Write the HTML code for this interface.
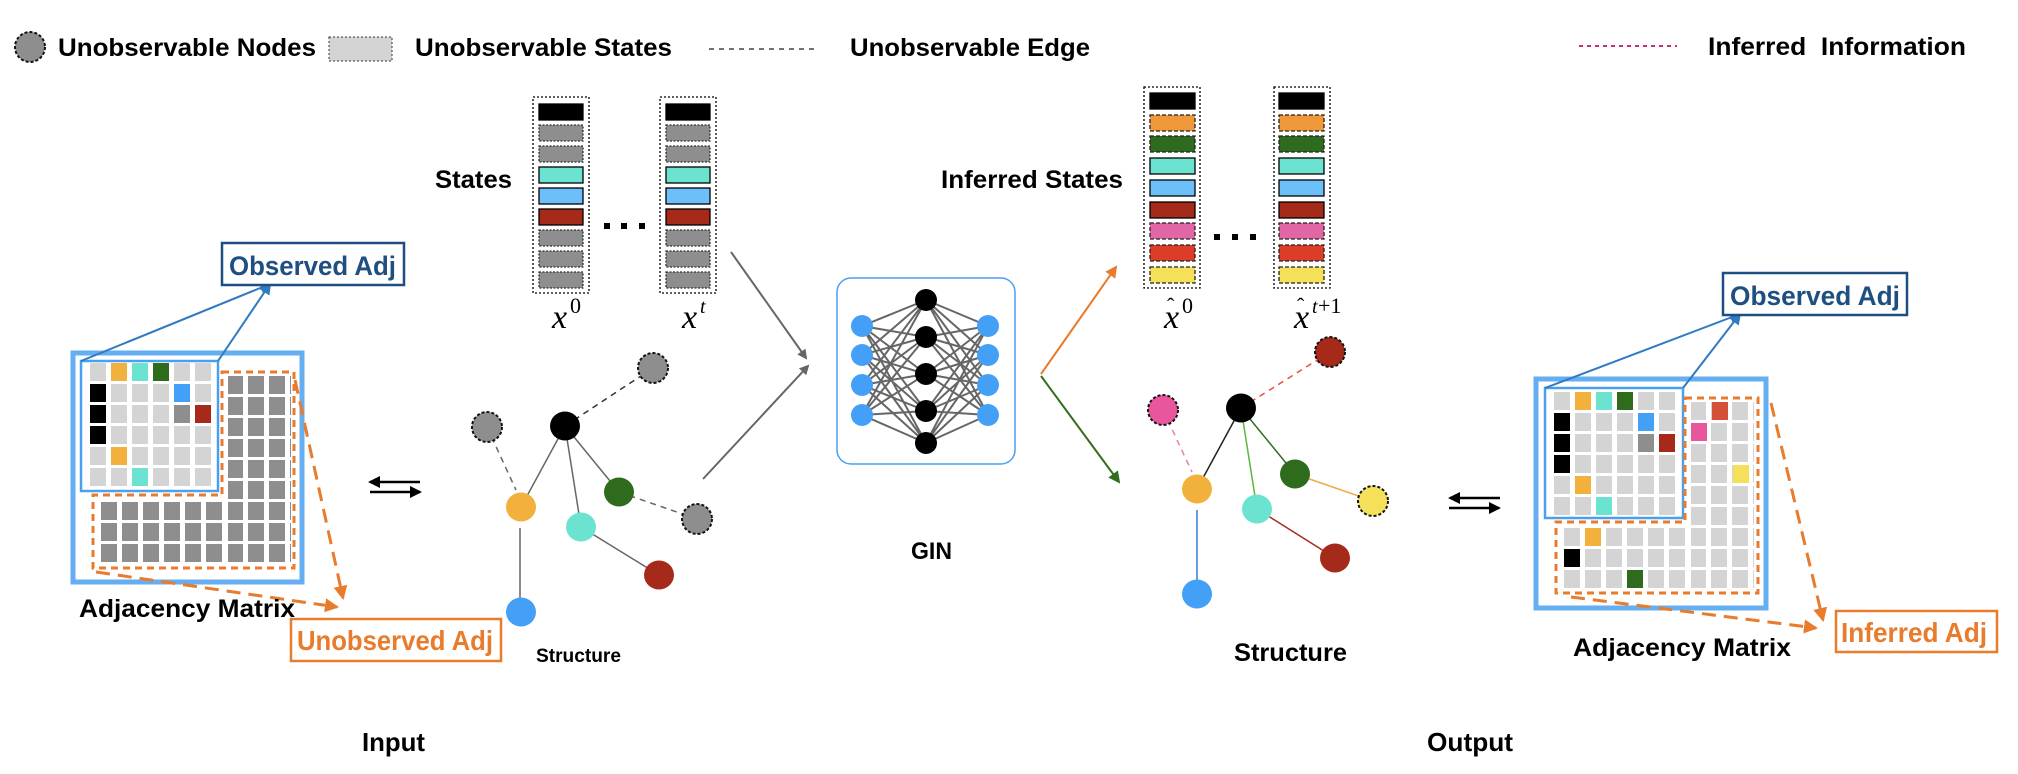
<!DOCTYPE html>
<html><head><meta charset="utf-8"><style>html,body{margin:0;padding:0;background:#fff}svg{display:block}</style></head><body>
<svg xmlns="http://www.w3.org/2000/svg" width="2018" height="774" viewBox="0 0 2018 774" font-family="'Liberation Sans', sans-serif">
<defs>
<pattern id="pL1" x="90" y="363" width="21" height="21" patternUnits="userSpaceOnUse"><rect width="16" height="18" fill="#d4d4d4"/></pattern>
<pattern id="pD" x="101" y="376" width="21" height="21" patternUnits="userSpaceOnUse"><rect width="16" height="18" fill="#8e8e8e"/></pattern>
<pattern id="pR1" x="1554" y="392" width="21" height="21" patternUnits="userSpaceOnUse"><rect width="16" height="18" fill="#d4d4d4"/></pattern>
<pattern id="pR2" x="1564" y="402" width="21" height="21" patternUnits="userSpaceOnUse"><rect width="16" height="18" fill="#d4d4d4"/></pattern>
<marker id="aG" markerWidth="10" markerHeight="10" refX="8" refY="5" orient="auto" markerUnits="userSpaceOnUse"><path d="M0,0 L10,5 L0,10 z" fill="#666"/></marker>
<marker id="aB" markerWidth="12" markerHeight="12" refX="10" refY="6" orient="auto" markerUnits="userSpaceOnUse"><path d="M0,0 L12,6 L0,12 z" fill="#2f7ac0"/></marker>
<marker id="aO" markerWidth="14" markerHeight="14" refX="12" refY="7" orient="auto" markerUnits="userSpaceOnUse"><path d="M0,0 L14,7 L0,14 z" fill="#e87b2c"/></marker>
<marker id="aOr" markerWidth="12" markerHeight="12" refX="10" refY="6" orient="auto" markerUnits="userSpaceOnUse"><path d="M0,0 L12,6 L0,12 z" fill="#e87b2c"/></marker>
<marker id="aGr" markerWidth="12" markerHeight="12" refX="10" refY="6" orient="auto" markerUnits="userSpaceOnUse"><path d="M0,0 L12,6 L0,12 z" fill="#336e1e"/></marker>
<marker id="aK" markerWidth="12" markerHeight="12" refX="10" refY="6" orient="auto" markerUnits="userSpaceOnUse"><path d="M0,0 L12,6 L0,12 z" fill="#000"/></marker>
</defs>

<!-- Legend -->
<ellipse cx="30" cy="47" rx="15" ry="15" fill="#8e8e8e" stroke="#111" stroke-width="2" stroke-dasharray="3,2"/>
<text x="58" y="56" font-size="25" font-weight="bold" textLength="258" lengthAdjust="spacingAndGlyphs">Unobservable Nodes</text>
<rect x="329" y="37" width="63" height="24" fill="#d4d4d4" stroke="#333" stroke-width="1" stroke-dasharray="2,2"/>
<text x="415" y="56" font-size="25" font-weight="bold" textLength="257" lengthAdjust="spacingAndGlyphs">Unobservable States</text>
<line x1="709" y1="49" x2="815" y2="49" stroke="#444" stroke-width="1.5" stroke-dasharray="5,5"/>
<text x="850" y="56" font-size="25" font-weight="bold" textLength="240" lengthAdjust="spacingAndGlyphs">Unobservable Edge</text>
<line x1="1579" y1="46" x2="1677" y2="46" stroke="#c8307a" stroke-width="2" stroke-dasharray="4,4"/>
<text x="1708" y="55" font-size="25" font-weight="bold" textLength="258" lengthAdjust="spacingAndGlyphs" xml:space="preserve">Inferred  Information</text>

<!-- States -->
<text x="435" y="188" font-size="25" font-weight="bold" textLength="77" lengthAdjust="spacingAndGlyphs">States</text>
<g stroke-width="1.3">
<rect x="533" y="97" width="56" height="196" fill="none" stroke="#000" stroke-dasharray="2,2"/>
<rect x="539" y="104" width="44" height="16" fill="#000" stroke="#000"/>
<rect x="539" y="125" width="44" height="16" fill="#8e8e8e" stroke="#333" stroke-dasharray="2,1.5"/>
<rect x="539" y="146" width="44" height="16" fill="#8e8e8e" stroke="#333" stroke-dasharray="2,1.5"/>
<rect x="539" y="167" width="44" height="16" fill="#6ce3d1" stroke="#000"/>
<rect x="539" y="188" width="44" height="16" fill="#6cbff8" stroke="#000"/>
<rect x="539" y="209" width="44" height="16" fill="#a52a1a" stroke="#000"/>
<rect x="539" y="230" width="44" height="16" fill="#8e8e8e" stroke="#333" stroke-dasharray="2,1.5"/>
<rect x="539" y="251" width="44" height="16" fill="#8e8e8e" stroke="#333" stroke-dasharray="2,1.5"/>
<rect x="539" y="272" width="44" height="16" fill="#8e8e8e" stroke="#333" stroke-dasharray="2,1.5"/>

<rect x="660" y="97" width="56" height="196" fill="none" stroke="#000" stroke-dasharray="2,2"/>
<rect x="666" y="104" width="44" height="16" fill="#000" stroke="#000"/>
<rect x="666" y="125" width="44" height="16" fill="#8e8e8e" stroke="#333" stroke-dasharray="2,1.5"/>
<rect x="666" y="146" width="44" height="16" fill="#8e8e8e" stroke="#333" stroke-dasharray="2,1.5"/>
<rect x="666" y="167" width="44" height="16" fill="#6ce3d1" stroke="#000"/>
<rect x="666" y="188" width="44" height="16" fill="#6cbff8" stroke="#000"/>
<rect x="666" y="209" width="44" height="16" fill="#a52a1a" stroke="#000"/>
<rect x="666" y="230" width="44" height="16" fill="#8e8e8e" stroke="#333" stroke-dasharray="2,1.5"/>
<rect x="666" y="251" width="44" height="16" fill="#8e8e8e" stroke="#333" stroke-dasharray="2,1.5"/>
<rect x="666" y="272" width="44" height="16" fill="#8e8e8e" stroke="#333" stroke-dasharray="2,1.5"/>
</g>
<rect x="604" y="223" width="6" height="6" fill="#000"/><rect x="621" y="223" width="6" height="6" fill="#000"/><rect x="639" y="223" width="6" height="6" fill="#000"/>
<g font-family="'Liberation Serif', serif">
<text x="552" y="328" font-size="34" font-style="italic">x</text><text x="570" y="313" font-size="22">0</text>
<text x="682" y="328" font-size="34" font-style="italic">x</text><text x="700" y="313" font-size="20" font-style="italic">t</text>
</g>

<!-- arrows into GIN -->
<line x1="731" y1="252" x2="806" y2="358" stroke="#666" stroke-width="2" marker-end="url(#aG)"/>
<line x1="703" y1="479" x2="808" y2="366" stroke="#666" stroke-width="2" marker-end="url(#aG)"/>

<!-- GIN -->
<rect x="837" y="278" width="178" height="186" rx="14" fill="#fff" stroke="#4aa0f0" stroke-width="1.5"/>
<g stroke="#666" stroke-width="2">
<path d="M862,326L926,300M862,326L926,337M862,326L926,374M862,326L926,411M862,326L926,443
M862,355L926,300M862,355L926,337M862,355L926,374M862,355L926,411M862,355L926,443
M862,385L926,300M862,385L926,337M862,385L926,374M862,385L926,411M862,385L926,443
M862,415L926,300M862,415L926,337M862,415L926,374M862,415L926,411M862,415L926,443
M988,326L926,300M988,326L926,337M988,326L926,374M988,326L926,411M988,326L926,443
M988,355L926,300M988,355L926,337M988,355L926,374M988,355L926,411M988,355L926,443
M988,385L926,300M988,385L926,337M988,385L926,374M988,385L926,411M988,385L926,443
M988,415L926,300M988,415L926,337M988,415L926,374M988,415L926,411M988,415L926,443"/>
</g>
<g fill="#44a0f7"><circle cx="862" cy="326" r="11"/><circle cx="862" cy="355" r="11"/><circle cx="862" cy="385" r="11"/><circle cx="862" cy="415" r="11"/>
<circle cx="988" cy="326" r="11"/><circle cx="988" cy="355" r="11"/><circle cx="988" cy="385" r="11"/><circle cx="988" cy="415" r="11"/></g>
<g fill="#000"><circle cx="926" cy="300" r="11"/><circle cx="926" cy="337" r="11"/><circle cx="926" cy="374" r="11"/><circle cx="926" cy="411" r="11"/><circle cx="926" cy="443" r="11"/></g>
<text x="911" y="559" font-size="24" font-weight="bold" textLength="41" lengthAdjust="spacingAndGlyphs">GIN</text>

<!-- output arrows -->
<line x1="1041" y1="374" x2="1116" y2="267" stroke="#e87b2c" stroke-width="2" marker-end="url(#aOr)"/>
<line x1="1041" y1="376" x2="1119" y2="482" stroke="#336e1e" stroke-width="2" marker-end="url(#aGr)"/>

<!-- Inferred states -->
<text x="941" y="188" font-size="25" font-weight="bold" textLength="182" lengthAdjust="spacingAndGlyphs">Inferred States</text>
<g stroke-width="1.3">
<rect x="1144" y="87" width="56" height="201" fill="none" stroke="#000" stroke-dasharray="2,2"/>
<rect x="1150" y="93" width="45" height="16" fill="#000" stroke="#000"/>
<rect x="1150" y="115" width="45" height="16" fill="#f0993a" stroke="#222" stroke-dasharray="4,2"/>
<rect x="1150" y="136" width="45" height="16" fill="#2e6b1e" stroke="#222" stroke-dasharray="4,2"/>
<rect x="1150" y="158" width="45" height="16" fill="#6ce3d1" stroke="#000"/>
<rect x="1150" y="180" width="45" height="16" fill="#6cbff8" stroke="#000"/>
<rect x="1150" y="202" width="45" height="16" fill="#a52a1a" stroke="#000"/>
<rect x="1150" y="223" width="45" height="16" fill="#e066a6" stroke="#222" stroke-dasharray="4,2"/>
<rect x="1150" y="245" width="45" height="16" fill="#dc3d28" stroke="#222" stroke-dasharray="4,2"/>
<rect x="1150" y="267" width="45" height="16" fill="#f5e05a" stroke="#222" stroke-dasharray="4,2"/>

<rect x="1274" y="87" width="56" height="201" fill="none" stroke="#000" stroke-dasharray="2,2"/>
<rect x="1279" y="93" width="45" height="16" fill="#000" stroke="#000"/>
<rect x="1279" y="115" width="45" height="16" fill="#f0993a" stroke="#222" stroke-dasharray="4,2"/>
<rect x="1279" y="136" width="45" height="16" fill="#2e6b1e" stroke="#222" stroke-dasharray="4,2"/>
<rect x="1279" y="158" width="45" height="16" fill="#6ce3d1" stroke="#000"/>
<rect x="1279" y="180" width="45" height="16" fill="#6cbff8" stroke="#000"/>
<rect x="1279" y="202" width="45" height="16" fill="#a52a1a" stroke="#000"/>
<rect x="1279" y="223" width="45" height="16" fill="#e066a6" stroke="#222" stroke-dasharray="4,2"/>
<rect x="1279" y="245" width="45" height="16" fill="#dc3d28" stroke="#222" stroke-dasharray="4,2"/>
<rect x="1279" y="267" width="45" height="16" fill="#f5e05a" stroke="#222" stroke-dasharray="4,2"/>
</g>
<rect x="1214" y="234" width="6" height="6" fill="#000"/><rect x="1232" y="234" width="6" height="6" fill="#000"/><rect x="1250" y="234" width="6" height="6" fill="#000"/>
<g font-family="'Liberation Serif', serif">
<text x="1164" y="328" font-size="34" font-style="italic">x</text><text x="1167" y="313" font-size="22">ˆ</text><text x="1182" y="313" font-size="22">0</text>
<text x="1294" y="328" font-size="34" font-style="italic">x</text><text x="1297" y="313" font-size="22">ˆ</text><text x="1312" y="313" font-size="20" font-style="italic">t</text><text x="1318" y="313" font-size="22">+1</text>
</g>

<!-- Left adjacency matrix -->
<rect x="73" y="353" width="229" height="229" fill="none" stroke="#4aa0f0" stroke-width="5" opacity="0.85"/>
<rect x="90" y="363" width="126" height="126" fill="url(#pL1)"/>
<rect x="228" y="376" width="63" height="189" fill="url(#pD)"/>
<rect x="101" y="502" width="126" height="63" fill="url(#pD)"/>
<g>
<rect x="111" y="363" width="16" height="18" fill="#f2b03c"/>
<rect x="132" y="363" width="16" height="18" fill="#6ce3d1"/>
<rect x="153" y="363" width="16" height="18" fill="#2f6b1d"/>
<rect x="90" y="384" width="16" height="18" fill="#000"/>
<rect x="174" y="384" width="16" height="18" fill="#44a0f7"/>
<rect x="90" y="405" width="16" height="18" fill="#000"/>
<rect x="174" y="405" width="16" height="18" fill="#8e8e8e"/>
<rect x="195" y="405" width="16" height="18" fill="#a52a1a"/>
<rect x="90" y="426" width="16" height="18" fill="#000"/>
<rect x="111" y="447" width="16" height="18" fill="#f2b03c"/>
<rect x="132" y="468" width="16" height="18" fill="#6ce3d1"/>
</g>
<rect x="81" y="361" width="137" height="130" fill="none" stroke="#4aa0f0" stroke-width="2.5"/>
<path d="M222,372 L294,372 L294,568 L93,568 L93,495 L222,495 Z" fill="none" stroke="#e87b2c" stroke-width="3" stroke-dasharray="7,5"/>
<line x1="81" y1="361" x2="270" y2="284" stroke="#2f7ac0" stroke-width="2" marker-end="url(#aB)"/>
<line x1="218" y1="361" x2="270" y2="284" stroke="#2f7ac0" stroke-width="2" marker-end="url(#aB)"/>
<rect x="222" y="243" width="182" height="42" fill="#fff" stroke="#1f4e80" stroke-width="2.5"/>
<text x="229" y="275" font-size="27" font-weight="bold" fill="#1f4e80" textLength="167" lengthAdjust="spacingAndGlyphs">Observed Adj</text>
<line x1="295" y1="380" x2="343" y2="598" stroke="#e87b2c" stroke-width="3" stroke-dasharray="14,8" marker-end="url(#aO)"/>
<line x1="96" y1="572" x2="337" y2="607" stroke="#e87b2c" stroke-width="3" stroke-dasharray="14,8" marker-end="url(#aO)"/>
<text x="79" y="617" font-size="25" font-weight="bold" textLength="216" lengthAdjust="spacingAndGlyphs">Adjacency Matrix</text>
<rect x="291" y="619" width="210" height="42" fill="#fff" stroke="#e87b2c" stroke-width="2.5"/>
<text x="297" y="650" font-size="28" font-weight="bold" fill="#e87b2c" textLength="196" lengthAdjust="spacingAndGlyphs">Unobserved Adj</text>
<text x="362" y="751" font-size="26" font-weight="bold" textLength="63" lengthAdjust="spacingAndGlyphs">Input</text>

<!-- left switch arrows -->
<line x1="420" y1="482" x2="370" y2="482" stroke="#000" stroke-width="2.5" marker-end="url(#aK)"/>
<line x1="370" y1="492" x2="420" y2="492" stroke="#000" stroke-width="2.5" marker-end="url(#aK)"/>

<!-- Left graph -->
<g stroke="#666" stroke-width="1.5">
<line x1="565" y1="426" x2="521" y2="507"/>
<line x1="565" y1="426" x2="581" y2="527"/>
<line x1="565" y1="426" x2="619" y2="492"/>
<line x1="581" y1="527" x2="659" y2="575"/>
<line x1="520" y1="528" x2="520" y2="612"/>
<line x1="565" y1="426" x2="653" y2="368" stroke="#333" stroke-dasharray="6,5"/>
<line x1="487" y1="427" x2="516" y2="490" stroke-dasharray="6,5"/>
<line x1="619" y1="492" x2="697" y2="519" stroke-dasharray="6,5"/>
</g>
<g stroke="#111" stroke-width="2" stroke-dasharray="3,2" fill="#8e8e8e">
<ellipse cx="653" cy="368" rx="15" ry="15"/><ellipse cx="487" cy="427" rx="15" ry="15"/><ellipse cx="697" cy="519" rx="15" ry="15"/>
</g>
<ellipse cx="565" cy="426" rx="15" ry="14.5" fill="#000"/>
<ellipse cx="521" cy="507" rx="15" ry="14.5" fill="#f2b03c"/>
<ellipse cx="581" cy="527" rx="15" ry="14.5" fill="#6ce3d1"/>
<ellipse cx="619" cy="492" rx="15" ry="14.5" fill="#2f6b1d"/>
<ellipse cx="659" cy="575" rx="15" ry="14.5" fill="#a52a1a"/>
<ellipse cx="521" cy="612" rx="15" ry="14.5" fill="#44a0f7"/>
<text x="536" y="662" font-size="19" font-weight="bold" textLength="85" lengthAdjust="spacingAndGlyphs">Structure</text>

<!-- Right graph -->
<line x1="1241" y1="408" x2="1330" y2="352" stroke="#e8503a" stroke-width="1.5" stroke-dasharray="6,5"/>
<line x1="1163" y1="410" x2="1192" y2="472" stroke="#e87cb8" stroke-width="1.5" stroke-dasharray="6,5"/>
<line x1="1241" y1="408" x2="1197" y2="489" stroke="#222" stroke-width="1.5"/>
<line x1="1241" y1="408" x2="1257" y2="509" stroke="#5cb83a" stroke-width="1.5"/>
<line x1="1241" y1="408" x2="1295" y2="474" stroke="#336e1e" stroke-width="1.5"/>
<line x1="1295" y1="474" x2="1373" y2="501" stroke="#f2a94a" stroke-width="1.5"/>
<line x1="1257" y1="509" x2="1335" y2="558" stroke="#a52a1a" stroke-width="1.5"/>
<line x1="1197" y1="510" x2="1197" y2="594" stroke="#2f7fd0" stroke-width="1.5"/>
<g stroke="#111" stroke-width="2" stroke-dasharray="3,2">
<ellipse cx="1330" cy="352" rx="15" ry="15" fill="#a52a1a"/>
<ellipse cx="1163" cy="410" rx="15" ry="15" fill="#e8579e"/>
<ellipse cx="1373" cy="501" rx="15" ry="15" fill="#f5e05a"/>
</g>
<ellipse cx="1241" cy="408" rx="15" ry="14.5" fill="#000"/>
<ellipse cx="1197" cy="489" rx="15" ry="14.5" fill="#f2b03c"/>
<ellipse cx="1257" cy="509" rx="15" ry="14.5" fill="#6ce3d1"/>
<ellipse cx="1295" cy="474" rx="15" ry="14.5" fill="#2f6b1d"/>
<ellipse cx="1335" cy="558" rx="15" ry="14.5" fill="#a52a1a"/>
<ellipse cx="1197" cy="594" rx="15" ry="14.5" fill="#44a0f7"/>
<text x="1234" y="661" font-size="25" font-weight="bold" textLength="113" lengthAdjust="spacingAndGlyphs">Structure</text>

<!-- right switch arrows -->
<line x1="1500" y1="498" x2="1450" y2="498" stroke="#000" stroke-width="2.5" marker-end="url(#aK)"/>
<line x1="1449" y1="508" x2="1499" y2="508" stroke="#000" stroke-width="2.5" marker-end="url(#aK)"/>

<!-- Right adjacency matrix -->
<rect x="1536" y="379" width="230" height="229" fill="none" stroke="#4aa0f0" stroke-width="5" opacity="0.85"/>
<rect x="1554" y="392" width="126" height="126" fill="url(#pR1)"/>
<rect x="1691" y="402" width="63" height="189" fill="url(#pR2)"/>
<rect x="1564" y="528" width="126" height="63" fill="url(#pR2)"/>
<g>
<rect x="1575" y="392" width="16" height="18" fill="#f2b03c"/>
<rect x="1596" y="392" width="16" height="18" fill="#6ce3d1"/>
<rect x="1617" y="392" width="16" height="18" fill="#2f6b1d"/>
<rect x="1554" y="413" width="16" height="18" fill="#000"/>
<rect x="1638" y="413" width="16" height="18" fill="#44a0f7"/>
<rect x="1554" y="434" width="16" height="18" fill="#000"/>
<rect x="1638" y="434" width="16" height="18" fill="#8e8e8e"/>
<rect x="1659" y="434" width="16" height="18" fill="#a52a1a"/>
<rect x="1554" y="455" width="16" height="18" fill="#000"/>
<rect x="1575" y="476" width="16" height="18" fill="#f2b03c"/>
<rect x="1596" y="497" width="16" height="18" fill="#6ce3d1"/>
<rect x="1712" y="402" width="16" height="18" fill="#d45038"/>
<rect x="1691" y="423" width="16" height="18" fill="#e8579e"/>
<rect x="1733" y="465" width="16" height="18" fill="#f5e05a"/>
<rect x="1585" y="528" width="16" height="18" fill="#f2b03c"/>
<rect x="1564" y="549" width="16" height="18" fill="#000"/>
<rect x="1627" y="570" width="16" height="18" fill="#2f6b1d"/>
</g>
<rect x="1545" y="388" width="138" height="130" fill="none" stroke="#4aa0f0" stroke-width="2.5"/>
<path d="M1685,398 L1758,398 L1758,593 L1556,593 L1556,522 L1685,522 Z" fill="none" stroke="#e87b2c" stroke-width="3" stroke-dasharray="7,5"/>
<line x1="1545" y1="388" x2="1740" y2="314" stroke="#2f7ac0" stroke-width="2" marker-end="url(#aB)"/>
<line x1="1683" y1="388" x2="1740" y2="314" stroke="#2f7ac0" stroke-width="2" marker-end="url(#aB)"/>
<rect x="1723" y="273" width="184" height="42" fill="#fff" stroke="#1f4e80" stroke-width="2.5"/>
<text x="1730" y="305" font-size="27" font-weight="bold" fill="#1f4e80" textLength="170" lengthAdjust="spacingAndGlyphs">Observed Adj</text>
<line x1="1771" y1="403" x2="1823" y2="620" stroke="#e87b2c" stroke-width="3" stroke-dasharray="14,8" marker-end="url(#aO)"/>
<line x1="1571" y1="597" x2="1816" y2="628" stroke="#e87b2c" stroke-width="3" stroke-dasharray="14,8" marker-end="url(#aO)"/>
<text x="1573" y="656" font-size="25" font-weight="bold" textLength="218" lengthAdjust="spacingAndGlyphs">Adjacency Matrix</text>
<rect x="1836" y="611" width="161" height="41" fill="#fff" stroke="#e87b2c" stroke-width="2.5"/>
<text x="1841" y="642" font-size="28" font-weight="bold" fill="#e87b2c" textLength="146" lengthAdjust="spacingAndGlyphs">Inferred Adj</text>
<text x="1427" y="751" font-size="26" font-weight="bold" textLength="86" lengthAdjust="spacingAndGlyphs">Output</text>
</svg>
</body></html>
